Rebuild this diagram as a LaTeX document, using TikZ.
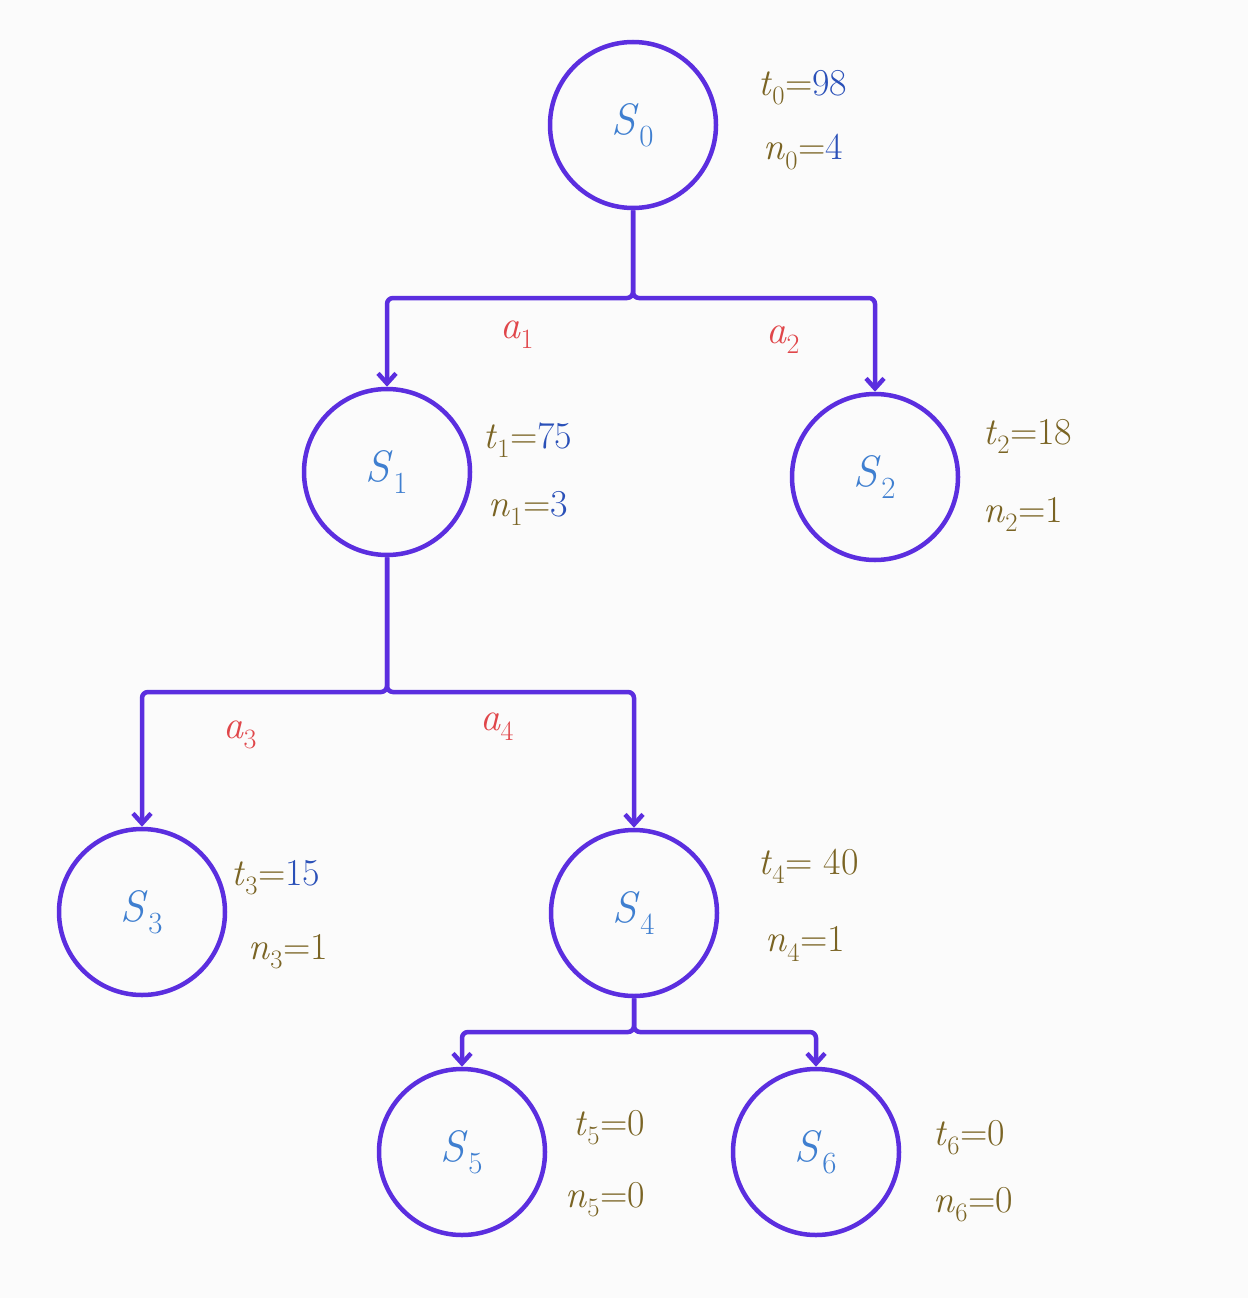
\documentclass[tikz,border=0pt]{standalone}
\usepackage{fontspec}
\usetikzlibrary{arrows.meta}
\definecolor{pur}{HTML}{5B2EDF}
\definecolor{sblue}{HTML}{3F7FD0}
\definecolor{olv}{HTML}{7A6424}
\definecolor{nblue}{HTML}{2A50B8}
\definecolor{ared}{HTML}{E0464A}
\newcommand{\vx}[2]{\textit{#1}\textsubscript{#2}}
\tikzset{
 st/.style={circle,draw=pur,line width=4.5pt,minimum size=166pt,inner sep=0pt,font=\fontsize{44}{44}\selectfont,text=sblue},
 arr/.style={draw=pur,line width=4.5pt,-{Straight Barb[length=10pt,width=18pt]},rounded corners=6pt},
 lab/.style={font=\fontsize{40}{40}\selectfont,text=ared},
 tn/.style={font=\fontsize{38}{38}\selectfont,text=olv,anchor=west}
}
\begin{document}
\begin{tikzpicture}[x=1pt,y=-1pt]
\useasboundingbox[fill=gray!3] (0,0) rectangle (1248,1298);
\node[st] (s0) at (633,125) {\vx{S}{0}};
\node[st] (s1) at (387,472) {\vx{S}{1}};
\node[st] (s2) at (875,477) {\vx{S}{2}};
\node[st] (s3) at (142,912) {\vx{S}{3}};
\node[st] (s4) at (634,913) {\vx{S}{4}};
\node[st] (s5) at (462,1152) {\vx{S}{5}};
\node[st] (s6) at (816,1152) {\vx{S}{6}};
\coordinate (j0) at (633,298);
\coordinate (j1) at (387,692);
\coordinate (j4) at (634,1032);
\draw[arr] (s0) -- (j0) -| (s1);
\draw[arr] (s0) -- (j0) -| (s2);
\draw[arr] (s1) -- (j1) -| (s3);
\draw[arr] (s1) -- (j1) -| (s4);
\draw[arr] (s4) -- (j4) -| (s5);
\draw[arr] (s4) -- (j4) -| (s6);
\node[lab] (a1) at (517,335) {\vx{a}{1}};
\node[lab] (a2) at (783,340) {\vx{a}{2}};
\node[lab] (a3) at (240,735) {\vx{a}{3}};
\node[lab] (a4) at (497,727) {\vx{a}{4}};
\node[tn] (t0) at (755,88) {\vx{t}{0}=\textcolor{nblue}{98}};
\node[tn] (n0) at (760,152) {\vx{n}{0}=\textcolor{nblue}{4}};
\node[tn] (t1) at (480,440) {\vx{t}{1}=\textcolor{nblue}{75}};
\node[tn] (n1) at (485,508) {\vx{n}{1}=\textcolor{nblue}{3}};
\node[tn] (t2) at (980,436) {\vx{t}{2}=18};
\node[tn] (n2) at (980,514) {\vx{n}{2}=1};
\node[tn] (t3) at (228,878) {\vx{t}{3}=\textcolor{nblue}{15}};
\node[tn] (n3) at (245,952) {\vx{n}{3}=1};
\node[tn] (t4) at (755,866) {\vx{t}{4}= 40};
\node[tn] (n4) at (762,944) {\vx{n}{4}=1};
\node[tn] (t5) at (570,1128) {\vx{t}{5}=0};
\node[tn] (n5) at (562,1200) {\vx{n}{5}=0};
\node[tn] (t6) at (930,1138) {\vx{t}{6}=0};
\node[tn] (n6) at (930,1205) {\vx{n}{6}=0};
\end{tikzpicture}
\end{document}
